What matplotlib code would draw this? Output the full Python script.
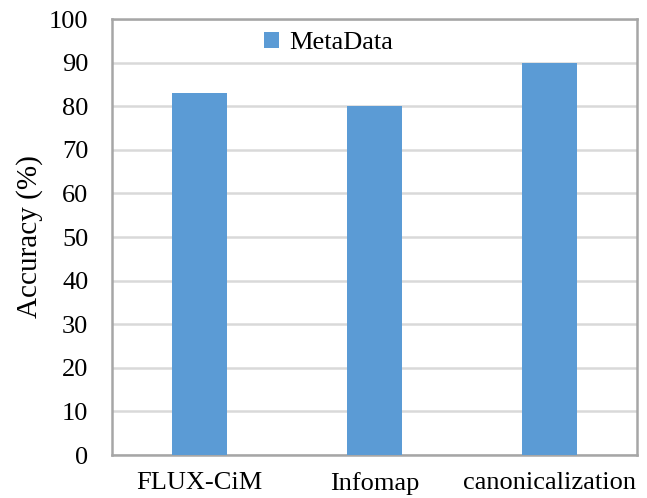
import matplotlib
matplotlib.use("Agg")
import matplotlib.pyplot as plt
import numpy as np

methods = ["FLUX-CiM", "Infomap", "canonicalization"]
accuracy = [83, 80, 90]
yticks = [0, 10, 20, 30, 40, 50, 60, 70, 80, 90, 100]

plt.rcParams["font.family"] = ["Liberation Serif", "DejaVu Serif"]

fig = plt.figure(figsize=(6.47, 4.98), dpi=100)
ax = fig.add_axes([112 / 647, 43 / 498, 525 / 647, 436 / 498])

x = np.arange(len(methods))
ax.bar(x, accuracy, width=0.31, color="#5B9BD5", label="MetaData", zorder=3)

ax.set_xlim(-0.5, len(methods) - 0.5)
ax.set_ylim(0, 100)
ax.set_yticks(yticks)
ax.set_xticks(x)
ax.set_xticklabels(methods)
ax.tick_params(axis="both", length=0, labelsize=19, colors="black")
ax.tick_params(axis="y", pad=17)
ax.tick_params(axis="x", pad=12)
ax.yaxis.grid(True, color="#D9D9D9", linewidth=1.8, zorder=0)

for side in ax.spines.values():
    side.set_color("#A6A6A6")
    side.set_linewidth(1.8)

ax.set_ylabel("Accuracy (%)", fontsize=21, labelpad=4)

ax.legend(loc="upper left", bbox_to_anchor=(0.245, 1.025), frameon=False,
          fontsize=19, handlelength=0.55, handleheight=0.55, handletextpad=0.4)

fig.savefig("out.png", dpi=100)
